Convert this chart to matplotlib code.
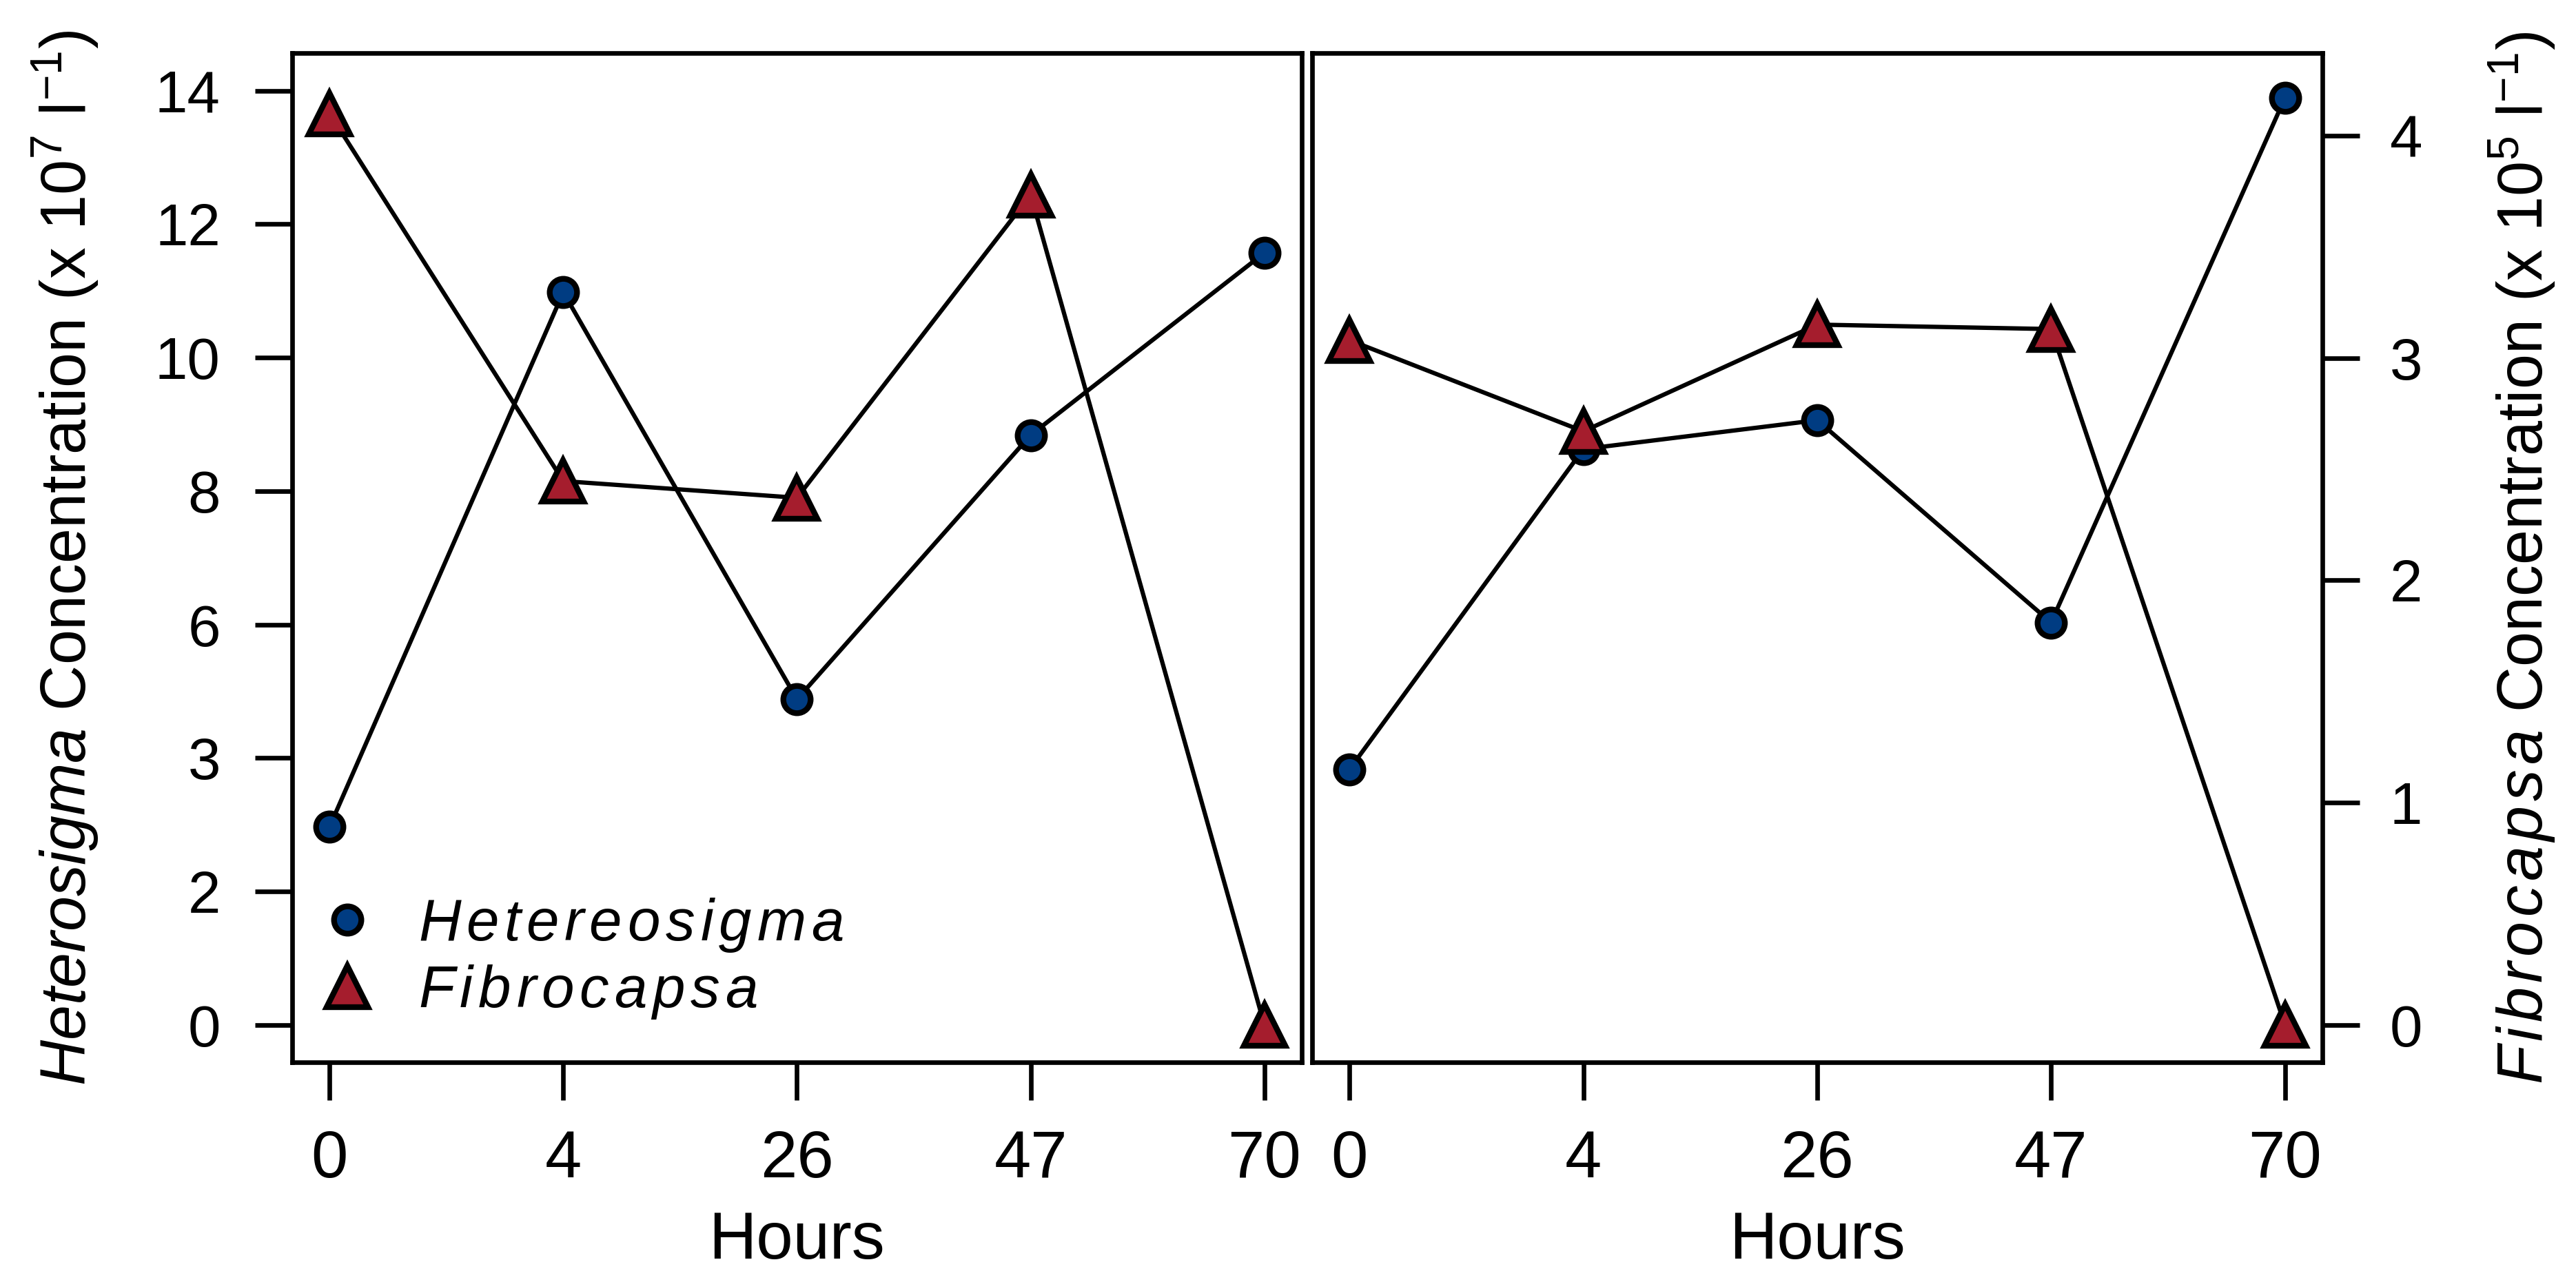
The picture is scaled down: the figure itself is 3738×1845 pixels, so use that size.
import numpy as np
import matplotlib.pyplot as plt
from matplotlib.lines import Line2D

plt.rcParams['font.family'] = 'Liberation Sans'
plt.rcParams['mathtext.fontset'] = 'custom'
plt.rcParams['mathtext.rm'] = 'Liberation Sans'
plt.rcParams['mathtext.it'] = 'Liberation Sans:italic'
plt.rcParams['mathtext.bf'] = 'Liberation Sans:bold'

hours = ['0', '4', '26', '47', '70']

# left panel (x 10^7 l^-1)
het_left = [2.97, 10.98, 4.88, 8.84, 11.57]
fib_left = [13.66, 8.15, 7.90, 12.44, 0.0]
left_ticks = [0, 2, 4, 6, 8, 10, 12, 14]
left_ticklabels = ['0', '2', '3', '6', '8', '10', '12', '14']

# right panel (x 10^5 l^-1)
het_right = [1.15, 2.59, 2.72, 1.81, 4.17]
fib_right = [3.08, 2.67, 3.15, 3.13, 0.0]
right_ticks = [0, 1, 2, 3, 4]

blue = '#003c82'
red = '#a51d2d'


def spaced(word, gap=0.09):
    return r'$\mathit{' + (r'\hspace{%g}' % gap).join(word) + '}$'


fig = plt.figure(figsize=(3738 / 300, 1845 / 300), dpi=300)
ax1 = fig.add_axes([0.11343, 0.16423, 0.39192, 0.79377])
ax2 = fig.add_axes([0.50936, 0.16423, 0.39219, 0.79377])

x = np.arange(len(hours))
for ax, het, fib in [(ax1, het_left, fib_left), (ax2, het_right, fib_right)]:
    ax.plot(x, het, '-', color='black', lw=1.5, zorder=2)
    ax.plot(x, fib, '-', color='black', lw=1.5, zorder=2)
    ax.plot(x, het, 'o', ms=9.5, mfc=blue, mec='black', mew=2.0, ls='none', zorder=3)
    ax.plot(x, fib, '^', ms=14.5, mfc=red, mec='black', mew=2.0, ls='none', zorder=4)
    ax.set_xlim(-0.16, 4.16)
    ax.set_xticks(x)
    ax.set_xticklabels(hours)
    for s in ax.spines.values():
        s.set_linewidth(1.6)
    ax.tick_params(axis='x', direction='out', length=13.3, width=1.6,
                   labelsize=23, pad=10)
    ax.tick_params(axis='y', direction='out', length=13, width=1.6,
                   labelsize=20.5)
    ax.set_xlabel('Hours', fontsize=23)
    ax.xaxis.set_label_coords(0.5, -0.147)

ax1.set_ylim(-0.56, 14.56)
ax1.set_yticks(left_ticks)
ax1.set_yticklabels(left_ticklabels)
ax1.tick_params(axis='y', pad=12)
ax1.set_ylabel(r'$\mathit{Heterosigma}$ Concentration (x 10$^{7}$ l$^{-1}$)', fontsize=22)
ax1.yaxis.set_label_coords(-0.19, 0.5)

ax2.set_ylim(-0.168, 4.37)
ax2.set_yticks(right_ticks)
ax2.yaxis.tick_right()
ax2.yaxis.set_label_position('right')
ax2.tick_params(axis='y', pad=10.5)
ax2.set_ylabel(spaced('Fibrocapsa') + r' Concentration (x 10$^{5}$ l$^{-1}$)', fontsize=22)
ax2.yaxis.set_label_coords(1.163, 0.5)

handles = [
    Line2D([], [], marker='o', ms=9.5, mfc=blue, mec='black', mew=2.0, ls='none'),
    Line2D([], [], marker='^', ms=14.5, mfc=red, mec='black', mew=2.0, ls='none'),
]
ax1.legend(handles, [spaced('Hetereosigma', 0.11), spaced('Fibrocapsa', 0.11)],
           loc='center left', bbox_to_anchor=(0.0256, 0.103), frameon=False,
           fontsize=20.5, borderpad=0, borderaxespad=0, handlelength=1.0,
           handletextpad=0.7, labelspacing=0.15)

fig.savefig('out.png', dpi=300)
